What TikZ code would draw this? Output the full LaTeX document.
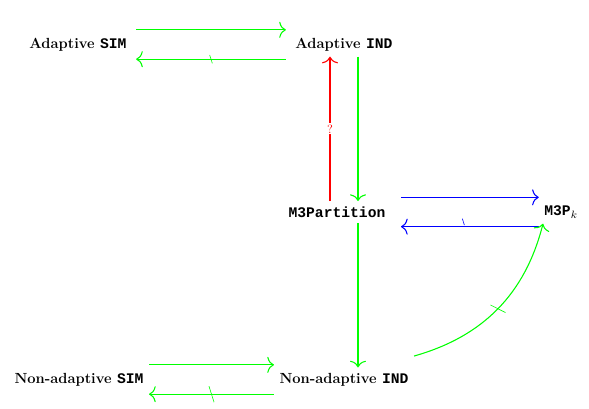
\documentclass[tikz,border=0pt]{standalone}
\usepackage{fontspec}
\setmonofont{Liberation Mono}
\usetikzlibrary{arrows.meta, decorations.markings}

\tikzset{
  lab/.style={font=\fontsize{11}{13}\selectfont\bfseries, inner sep=4pt},
  imp/.style={line width=0.8pt, -{To[length=5pt,width=12pt]}},
  notimp/.style={imp, postaction={decorate}, decoration={markings,
    mark=at position 0.5 with {\draw[-, line width=0.45pt] (1.9pt,-6pt) -- (-1.9pt,6pt);}}}
}

\begin{document}
\begin{tikzpicture}[x=0.75pt, y=-0.75pt]
  \useasboundingbox (0,0) rectangle (589,408);
  \node[lab] (asim) at (78,44.5) {Adaptive \texttt{SIM}};
  \node[lab] (aind) at (344,44.5) {Adaptive \texttt{IND}};
  \node[lab] (m3) at (337,212) {\texttt{M3Partition}};
  \node[lab] (m3k) at (561,212) {\texttt{M3P}$_k$};
  \node[lab] (nsim) at (79,379.5) {Non-adaptive \texttt{SIM}};
  \node[lab] (nind) at (344,379.5) {Non-adaptive \texttt{IND}};

  \draw[imp, green, shorten <=3pt, shorten >=3pt] ([yshift=11pt]asim.east) -- ([yshift=11pt]aind.west);
  \draw[notimp, green, shorten <=3pt, shorten >=3pt] ([yshift=-11pt]aind.west) -- ([yshift=-11pt]asim.east);

  \draw[imp, red] ([xshift=-10.5pt]aind.south |- m3.north) -- ([xshift=-10.5pt]aind.south)
    node[midway, fill=white, inner sep=1pt, font=\small] {?};
  \draw[imp, green] ([xshift=10.5pt]aind.south) -- ([xshift=10.5pt]aind.south |- m3.north);
  \draw[imp, green] ([xshift=10.5pt]nind.north |- m3.south) -- ([xshift=10.5pt]nind.north);

  \draw[imp, blue, shorten <=7.5pt] ([yshift=11pt]m3.east) -- ([yshift=11pt]m3k.west);
  \draw[notimp, blue, shorten >=7.5pt] ([yshift=-11pt]m3k.west) -- ([yshift=-11pt]m3.east);

  \draw[imp, green] ([yshift=11pt]nsim.east) -- ([yshift=11pt]nind.west);
  \draw[notimp, green] ([yshift=-11pt]nind.west) -- ([yshift=-11pt]nsim.east);

  \draw[notimp, green] ([yshift=17.6pt]nind.east) to[bend right=30] ([xshift=-13.5pt]m3k.south);
\end{tikzpicture}
\end{document}
